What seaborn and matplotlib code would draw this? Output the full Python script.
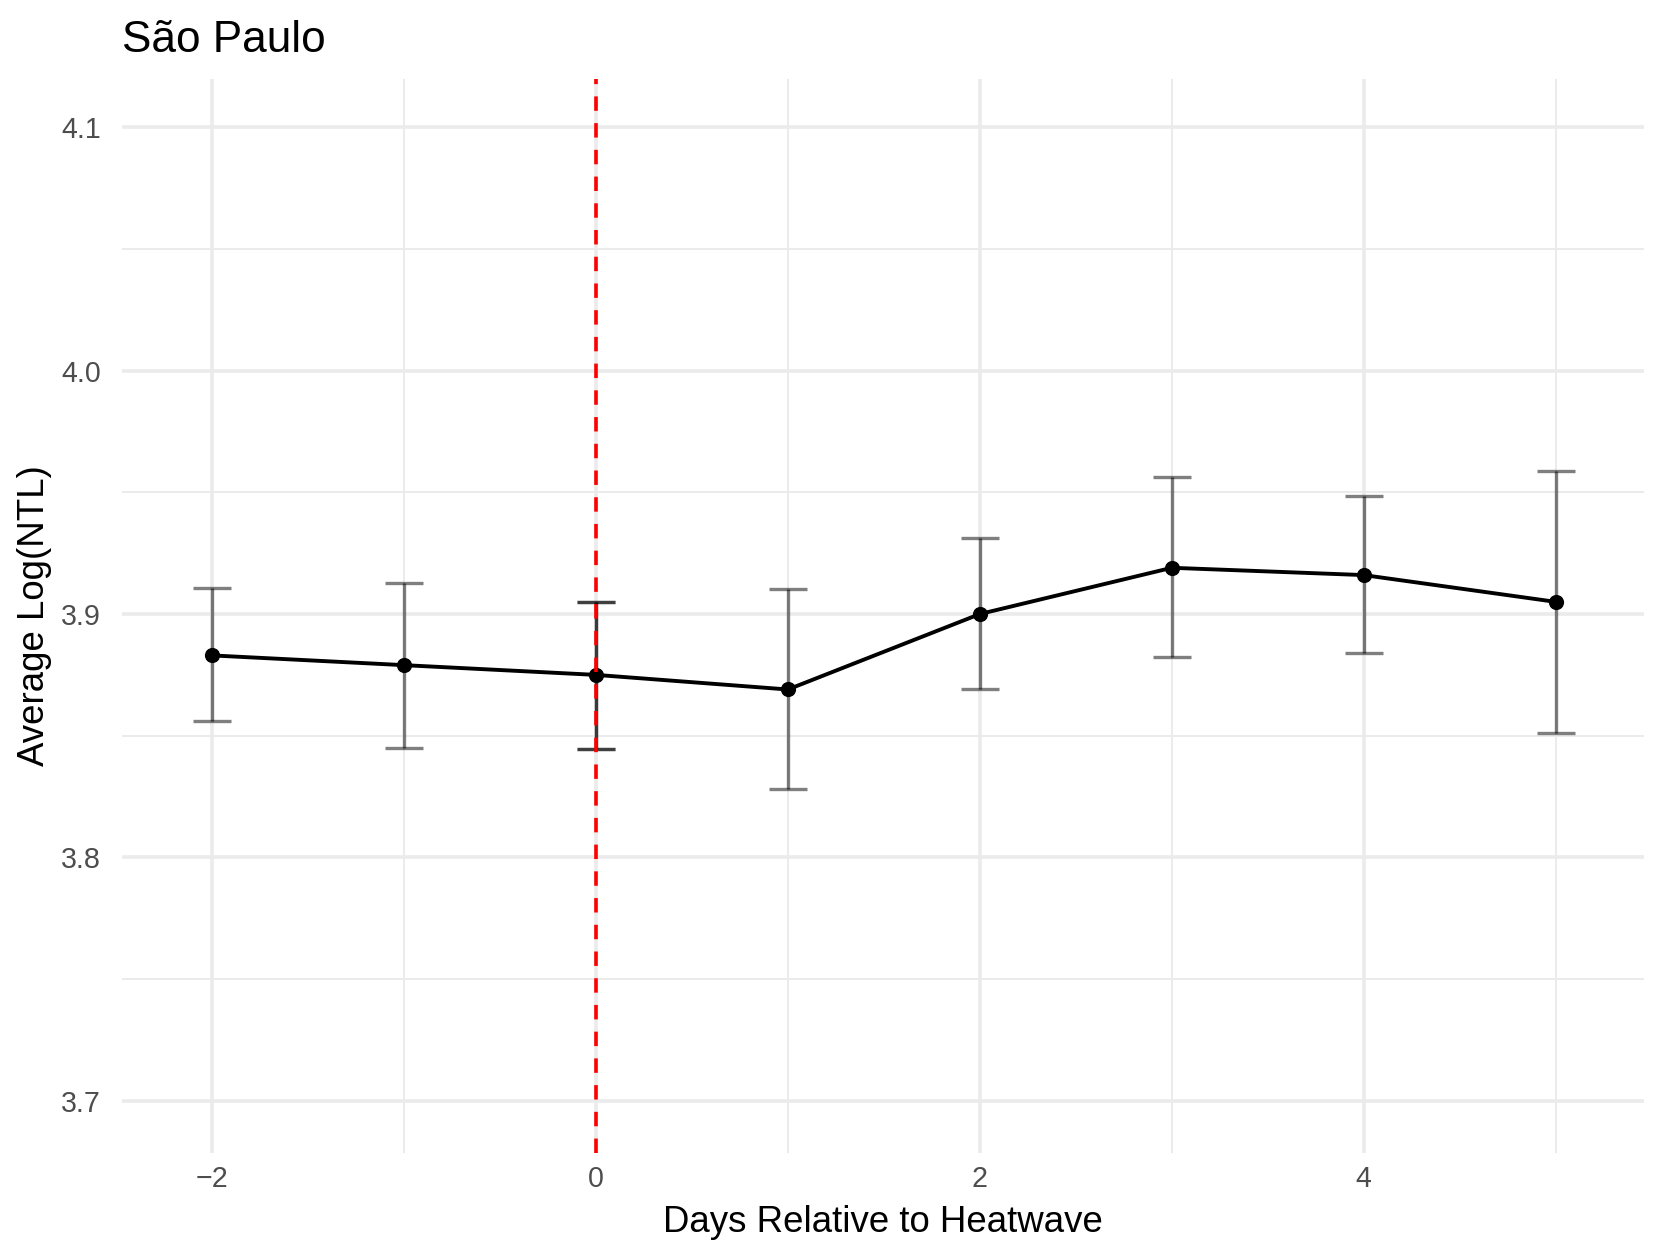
import numpy as np
import pandas as pd
import matplotlib
matplotlib.use("Agg")
import matplotlib.pyplot as plt
import seaborn as sns

# ===== data =====
days = [-2, -1, 0, 1, 2, 3, 4, 5]
mean_log_ntl = [3.883, 3.879, 3.875, 3.869, 3.900, 3.919, 3.916, 3.905]
ci_upper = [3.9106, 3.9126, 3.9051, 3.9101, 3.9313, 3.9562, 3.9485, 3.9586]
ci_lower = [3.8559, 3.8451, 3.8445, 3.8281, 3.8692, 3.8822, 3.8839, 3.8511]

city = "São Paulo"
heatwave_day = 0
x_ticks = [-2, 0, 2, 4]
y_ticks = [3.7, 3.8, 3.9, 4.0, 4.1]

df = pd.DataFrame({"day": days, "mean": mean_log_ntl,
                   "lo": ci_lower, "hi": ci_upper})

sns.set_theme(style="white")
plt.rcParams["font.family"] = ["Liberation Sans", "DejaVu Sans"]

fig = plt.figure(figsize=(8.305, 6.29), dpi=200)
ax = fig.add_axes([0.0733, 0.0835, 0.9165, 0.8537])

# grid like theme_minimal
ax.set_axisbelow(True)
for v in x_ticks:
    ax.axvline(v, color="#EBEBEB", lw=1.3, zorder=0)
for v in [-1, 1, 3, 5]:
    ax.axvline(v, color="#EBEBEB", lw=0.7, zorder=0)
for v in y_ticks:
    ax.axhline(v, color="#EBEBEB", lw=1.3, zorder=0)
for v in [3.75, 3.85, 3.95, 4.05]:
    ax.axhline(v, color="#EBEBEB", lw=0.7, zorder=0)

# error bars
yerr = np.vstack([df["mean"] - df["lo"], df["hi"] - df["mean"]])
ax.errorbar(df["day"], df["mean"], yerr=yerr, fmt="none", ecolor="black",
            alpha=0.5, elinewidth=1.2, capsize=6.9, capthick=1.2, zorder=2)
# the day-0 bar looks doubled in the reference
d0 = df[df["day"] == heatwave_day]
ax.errorbar(d0["day"], d0["mean"],
            yerr=[d0["mean"] - d0["lo"], d0["hi"] - d0["mean"]], fmt="none",
            ecolor="black", alpha=0.5, elinewidth=1.2, capsize=6.9,
            capthick=1.2, zorder=2)

sns.lineplot(data=df, x="day", y="mean", color="black", lw=1.4, ax=ax,
             zorder=3)
sns.scatterplot(data=df, x="day", y="mean", color="black", s=30,
                edgecolor="black", linewidth=0, ax=ax, zorder=4)

ax.axvline(heatwave_day, color="red", lw=1.3, dashes=(4.0, 3.4), zorder=5)

ax.set_xlim(-2.47, 5.46)
ax.set_ylim(3.6786, 4.1198)
ax.set_xticks(x_ticks)
ax.set_yticks(y_ticks)
ax.set_xticklabels(["\u22122", "0", "2", "4"])
ax.set_yticklabels(["3.7", "3.8", "3.9", "4.0", "4.1"])
ax.tick_params(axis="both", length=0, labelsize=10.3, labelcolor="#4D4D4D")
ax.tick_params(axis="x", pad=4.5)
ax.tick_params(axis="y", pad=7.5)
for s in ax.spines.values():
    s.set_visible(False)
ax.set_xlabel("")
ax.set_ylabel("")

fig.text(0.0733, 0.959, city, fontsize=15.9, ha="left", va="baseline",
         color="black")
fig.text(0.0733 + 0.9165 / 2, 0.021, "Days Relative to Heatwave",
         fontsize=13.2, ha="center", va="baseline", color="black")
fig.text(0.021, 0.0835 + 0.8537 / 2, "Average Log(NTL)", fontsize=13.2,
         rotation=90, ha="center", va="center", color="black")

fig.savefig("out.png", dpi=200, facecolor="white")
